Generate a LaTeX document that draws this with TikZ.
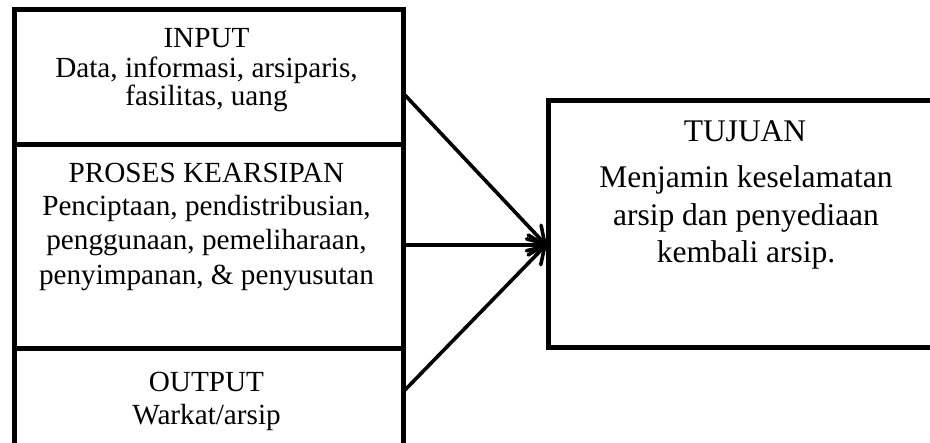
\documentclass[tikz,border=0pt]{standalone}
\usepackage{fontspec}
\setmainfont{Liberation Serif}
\usetikzlibrary{arrows.meta}
\begin{document}
\begin{tikzpicture}[x=1pt,y=-1pt,
  frame/.style={draw, line width=5pt, rectangle, inner sep=0pt, outer sep=0pt},
  lefttext/.style={anchor=base, inner sep=0pt, font=\fontsize{29.2}{29.2}\selectfont},
  righttext/.style={anchor=base, inner sep=0pt, font=\fontsize{31.5}{31.5}\selectfont},
  flow/.style={line width=3.6pt, -{Straight Barb[length=16pt, width=20pt, round]}}]
  \useasboundingbox (0,0) rectangle (930,443);
  \clip (0,0) rectangle (930,443);

  % stacked process boxes on the left
  \node[frame, minimum width=389pt, minimum height=135pt] (input)  at (208.5,77.5) {};
  \node[frame, minimum width=389pt, minimum height=204pt] (proses) at (208.5,247) {};
  \node[frame, minimum width=389pt, minimum height=131pt] (output) at (208.5,414.5) {};

  % goal box on the right
  \node[frame, minimum width=412pt, minimum height=247pt] (tujuan) at (754,224.5) {};

  % texts of the left boxes
  \node[lefttext] (inT) at (206.5,48) {INPUT};
  \node[lefttext] (inA) at (206.5,77.5) {Data, informasi, arsiparis,};
  \node[lefttext] (inB) at (206.5,106) {fasilitas, uang};

  \node[lefttext] (prT) at (206.5,183) {PROSES KEARSIPAN};
  \node[lefttext] (prA) at (206.5,216) {Penciptaan, pendistribusian,};
  \node[lefttext] (prB) at (206.5,250) {penggunaan, pemeliharaan,};
  \node[lefttext] (prC) at (206.5,285) {penyimpanan, \& penyusutan};

  \node[lefttext] (outT) at (206.5,392) {OUTPUT};
  \node[lefttext] (outA) at (206.5,425) {Warkat/arsip};

  % texts of the goal box
  \node[righttext] (tjT) at (745,142) {TUJUAN};
  \node[righttext] (tjA) at (746,188) {Menjamin keselamatan};
  \node[righttext] (tjB) at (746,226) {arsip dan penyediaan};
  \node[righttext] (tjC) at (746,263) {kembali arsip.};

  % connector end points
  \coordinate (s1) at (403,93);
  \coordinate (s2) at (403,245);
  \coordinate (s3) at (403,392);
  \coordinate (tip) at (546,245);

  \draw[flow] (s1) -- (tip);
  \draw[flow] (s2) -- (tip);
  \draw[flow] (s3) -- (tip);
\end{tikzpicture}
\end{document}
